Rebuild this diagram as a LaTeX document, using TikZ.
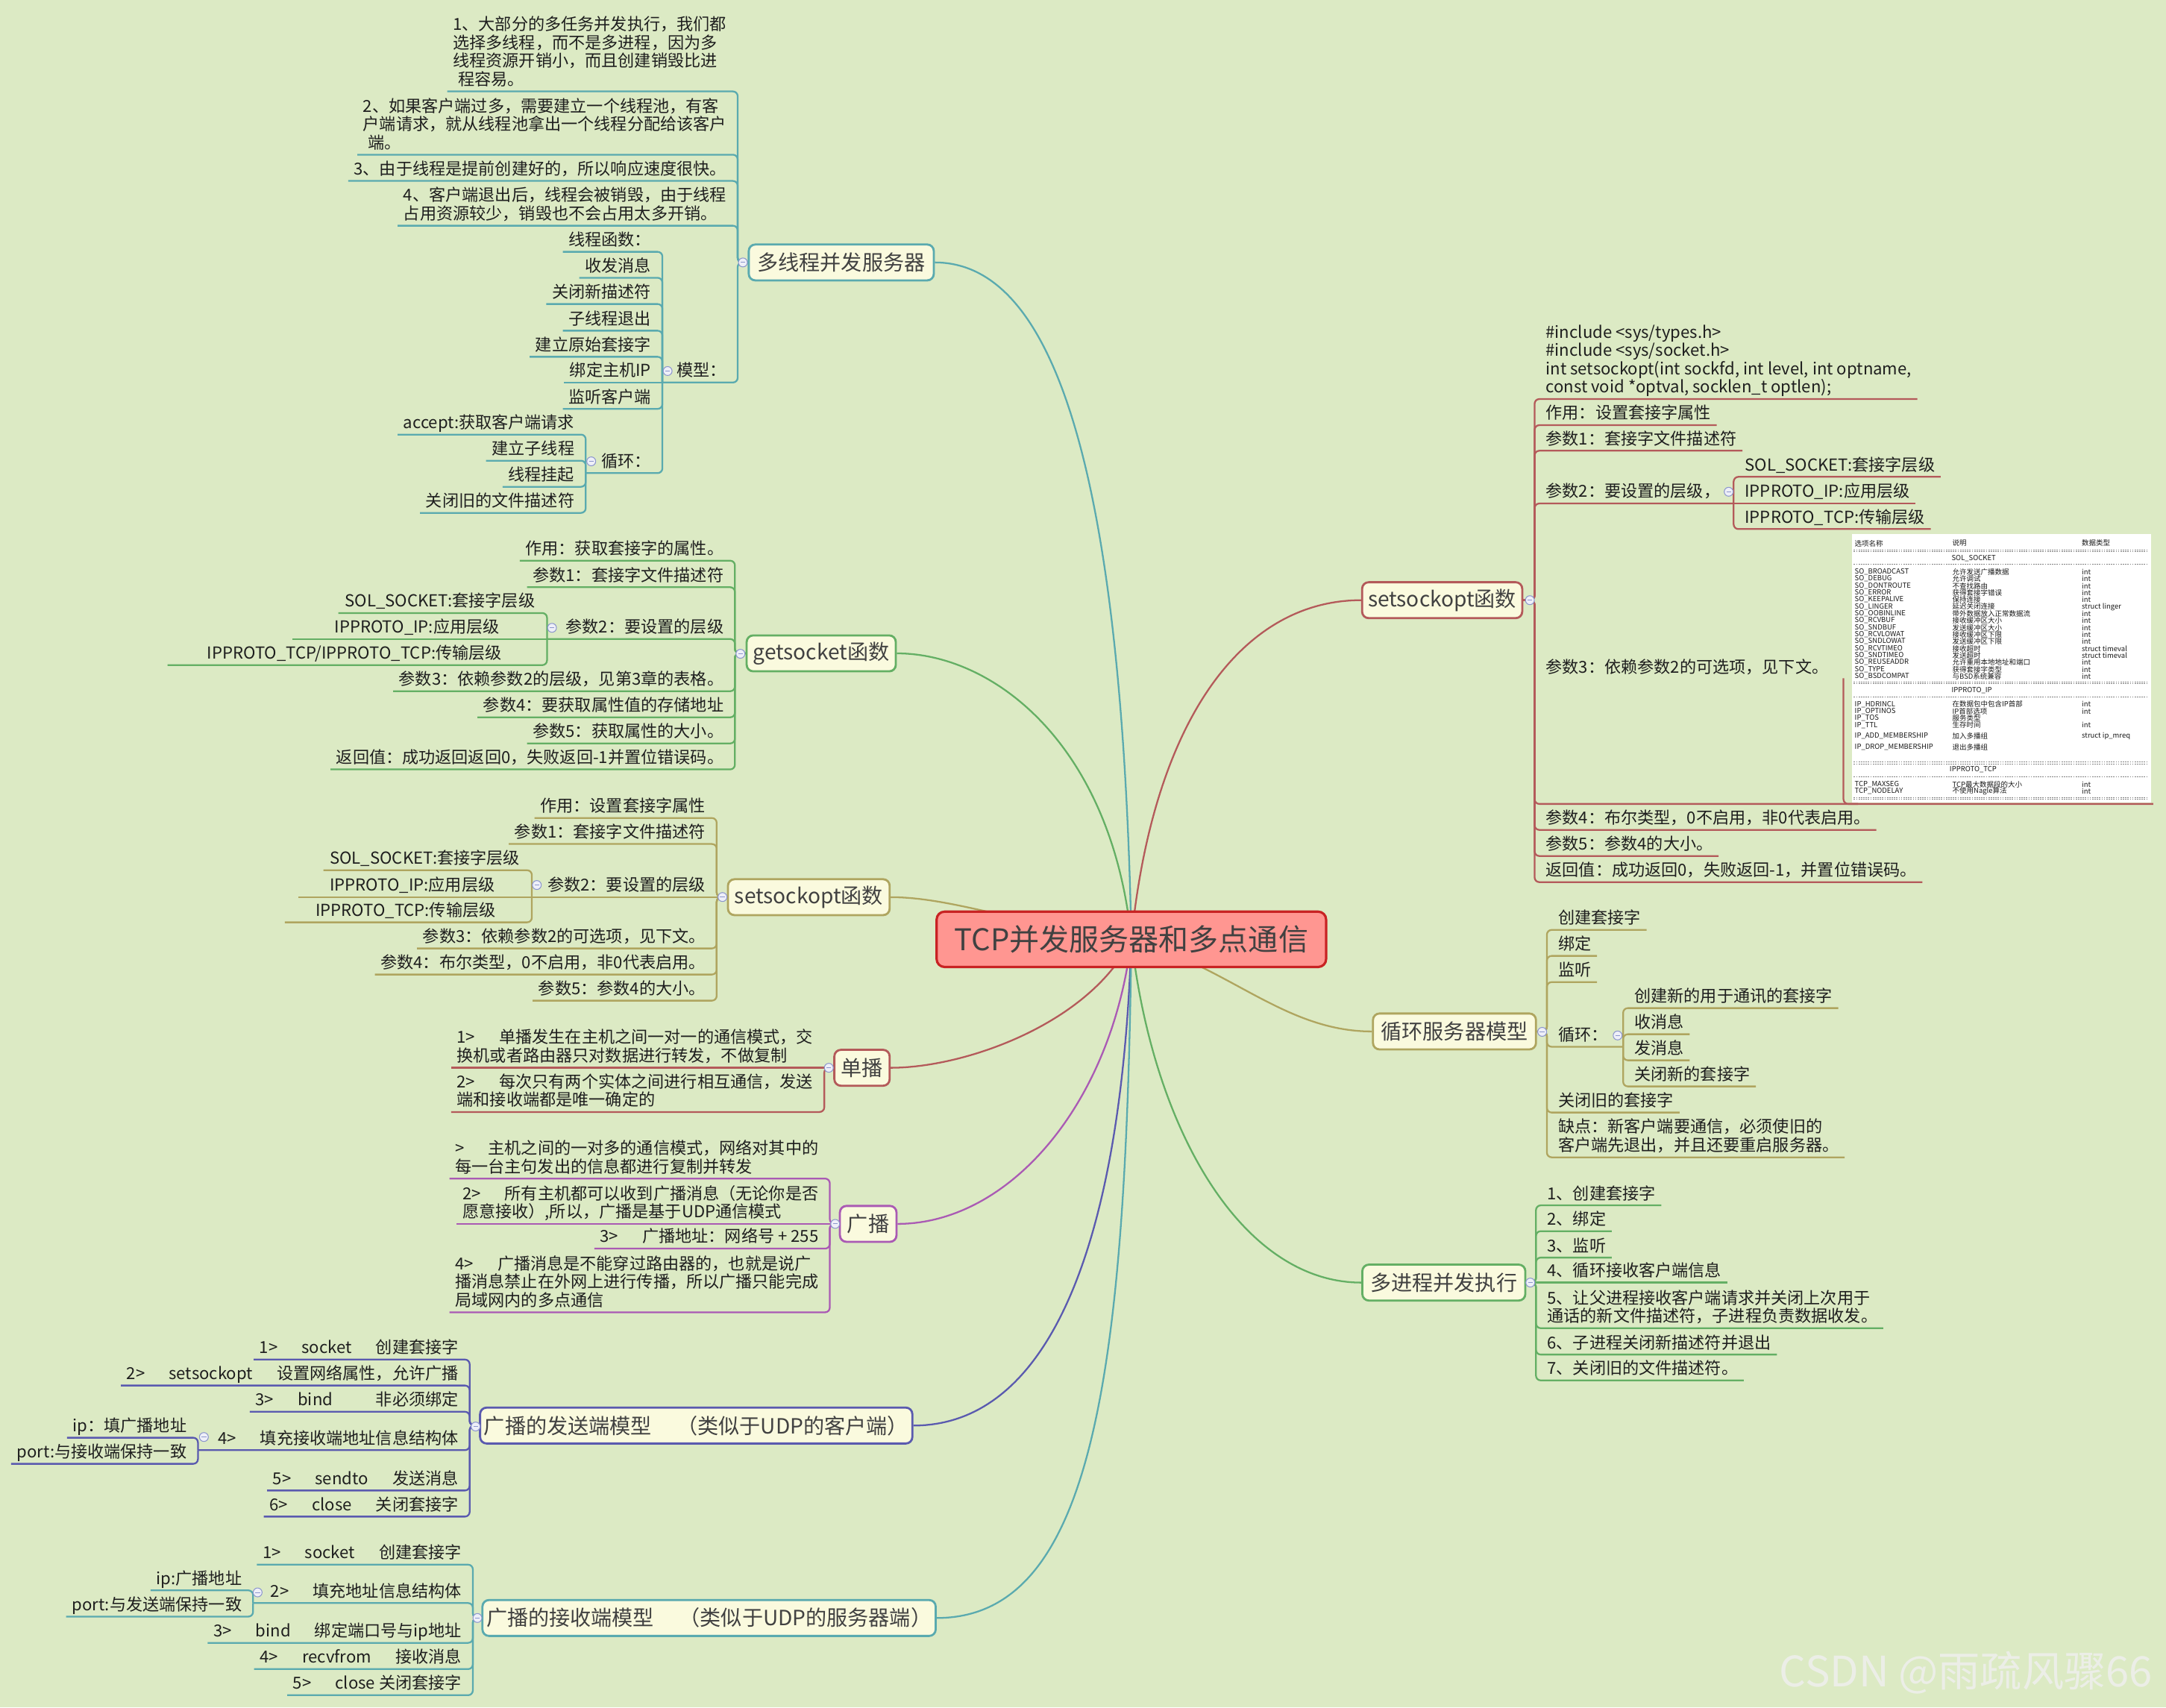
\documentclass[tikz,border=0pt]{standalone}
\usepackage{fontspec}
\setmainfont{Noto Sans CJK SC}
\usepackage{xcolor}
\usepackage{tikz}
\pgfdeclarelayer{background}
\pgfsetlayers{background,main}

\definecolor{mmbg}{RGB}{220,234,196}
\definecolor{mmcream}{RGB}{250,250,222}
\definecolor{mmteal}{RGB}{90,170,175}
\definecolor{mmgreen}{RGB}{100,175,100}
\definecolor{mmolive}{RGB}{175,165,95}
\definecolor{mmred}{RGB}{180,90,90}
\definecolor{mmpurple}{RGB}{170,90,180}
\definecolor{mmindigo}{RGB}{90,90,175}
\definecolor{mmcore}{RGB}{255,150,145}
\definecolor{mmcoreline}{RGB}{200,35,35}
\definecolor{mmfold}{RGB}{140,150,205}
\definecolor{mmtext}{RGB}{30,30,30}
\definecolor{mmtopic}{RGB}{65,65,65}

\newcommand{\leaffont}{\fontsize{6.3}{7}\selectfont}
\newcommand{\topicfont}{\fontsize{8}{9}\selectfont}
\newcommand{\cellfont}{\fontsize{2.7}{2.7}\selectfont}
\newcommand{\tabgap}{\hspace{1.45em}}

\tikzset{
  leafL/.style={anchor=south east, align=left, inner xsep=2pt, inner ysep=1.3pt,
                text depth=0.8pt, font=\leaffont, text=mmtext},
  leafR/.style={leafL, anchor=south west},
  topic/.style={draw=#1, fill=mmcream, line width=0.8pt, rounded corners=2.5pt,
                minimum height=13.7pt, inner xsep=1.5pt, inner ysep=0pt,
                font=\topicfont, text=mmtopic},
  core/.style={draw=mmcoreline, fill=mmcore, line width=0.9pt, rounded corners=3pt,
               minimum width=148.6pt, minimum height=21.1pt,
               font=\fontsize{11.4}{13}\selectfont, text=mmtopic},
  branch/.style={draw=#1, line width=0.65pt, rounded corners=1.8pt},
  mainlink/.style={draw=#1, line width=0.65pt},
  fold/.style={circle, draw=mmfold, fill=white!85!mmfold, line width=0.3pt,
               inner sep=0pt, minimum size=3.4pt,
               path picture={\draw[mmfold, line width=0.3pt]
                 ([xshift=-0.9pt]path picture bounding box.center) --
                 ([xshift=0.9pt]path picture bounding box.center);}},
  tabcell/.style={anchor=west, inner sep=0pt, font=\cellfont, text=black!90},
  tabrule/.style={black!50, line width=0.15pt, dash pattern=on 0.5pt off 0.4pt},
}

\begin{document}
\begin{tikzpicture}[x=0.01852cm, y=-0.01852cm]
\begin{pgfonlayer}{background}
\fill[mmbg] (0,0) rectangle (1568,1236);
\end{pgfonlayer}
\useasboundingbox (0,0) rectangle (1568,1236);

% ---- centre and main topics ----
\node[core] (tcp) at (819,680) {TCP并发服务器和多点通信};
\node[topic=mmteal, minimum width=70.6pt]    (mthr)  at (609,190)    {多线程并发服务器};
\node[topic=mmgreen, minimum width=56.9pt]   (gets)  at (594.5,473)  {getsocket函数};
\node[topic=mmolive, minimum width=61.7pt]   (setl)  at (585.5,649.5) {setsockopt函数};
\node[topic=mmred, minimum width=21.1pt]     (uni)   at (624,773)    {单播};
\node[topic=mmpurple, minimum width=21.6pt]  (bcast) at (628.5,886)  {广播};
\node[topic=mmindigo, minimum width=163.9pt] (send)  at (504,1032)   {广播的发送端模型\hspace{1.2em}（类似于UDP的客户端）};
\node[topic=mmteal, minimum width=171.3pt]   (recv)  at (513.3,1171.3) {广播的接收端模型\hspace{1.2em}（类似于UDP的服务器端）};
\node[topic=mmred, minimum width=61.1pt]     (setr)  at (1044,434.5) {setsockopt函数};
\node[topic=mmolive, minimum width=62.2pt]   (loop)  at (1052.9,746.7) {循环服务器模型};
\node[topic=mmgreen, minimum width=62.2pt]   (proc)  at (1045.2,928.5) {多进程并发执行};

\begin{pgfonlayer}{background}
\draw[mainlink=mmteal]   (tcp.center) .. controls (812,330) and (760,190) .. (mthr.east);
\draw[mainlink=mmgreen]  (tcp.center) .. controls (805,540) and (720,473) .. (gets.east);
\draw[mainlink=mmolive]  (tcp.center) .. controls (740,670) and (690,649.5) .. (setl.east);
\draw[mainlink=mmred]    (tcp.center) .. controls (790,740) and (700,773) .. (uni.east);
\draw[mainlink=mmpurple] (tcp.center) .. controls (805,800) and (730,886) .. (bcast.east);
\draw[mainlink=mmindigo] (tcp.center) .. controls (812,900) and (760,1032) .. (send.east);
\draw[mainlink=mmteal]   (tcp.center) .. controls (815,1000) and (790,1171.3) .. (recv.east);
\draw[mainlink=mmred]    (tcp.center) .. controls (835,520) and (900,434.5) .. (setr.west);
\draw[mainlink=mmolive]  (tcp.center) .. controls (890,700) and (930,746.7) .. (loop.west);
\draw[mainlink=mmgreen]  (tcp.center) .. controls (835,820) and (900,928.5) .. (proc.west);
\end{pgfonlayer}

% ---- 多线程并发服务器 ----
\coordinate (mthrS) at (534,0);
\coordinate (modS) at (479.5,0);
\coordinate (cycS) at (424,0);
\node[leafL] (mthr1) at (530,66.2) {1、大部分的多任务并发执行，我们都\\选择多线程，而不是多进程，因为多\\线程资源开销小，而且创建销毁比进\\\hspace*{2pt}程容易。};
\node[leafL] (mthr2) at (530,112) {2、如果客户端过多，需要建立一个线程池，有客\\户端请求，就从线程池拿出一个线程分配给该客户\\\hspace*{2pt}端。};
\node[leafL] (mthr3) at (530,131) {3、由于线程是提前创建好的，所以响应速度很快。};
\node[leafL] (mthr4) at (530,163.4) {4、客户端退出后，线程会被销毁，由于线程\\占用资源较少，销毁也不会占用太多开销。};
\node[leafL] (mod) at (530,276.9) {模型：};
\node[leafL] (mod1) at (475.5,182.3) {线程函数：};
\node[leafL] (mod2) at (475.5,201.1) {收发消息};
\node[leafL] (mod3) at (475.5,220.1) {关闭新描述符};
\node[leafL] (mod4) at (475.5,239.4) {子线程退出};
\node[leafL] (mod5) at (475.5,258.3) {建立原始套接字};
\node[leafL] (mod6) at (475.5,276.9) {绑定主机IP};
\node[leafL] (mod7) at (475.5,296) {监听客户端};
\node[leafL] (cyc) at (475.5,342.5) {循环：};
\node[leafL] (cyc1) at (420,314.6) {accept:获取客户端请求};
\node[leafL] (cyc2) at (420,333.5) {建立子线程};
\node[leafL] (cyc3) at (420,352.4) {线程挂起};
\node[leafL] (cyc4) at (420,371.3) {关闭旧的文件描述符};
\foreach \kid in {mthr1,mthr2,mthr3,mthr4}
  \draw[branch=mmteal] (mthr.west) -- (mthr.west -| mthrS) -- (mthrS |- \kid.south) -- (\kid.south west);
\draw[branch=mmteal] (mthr.west) -- (mthr.west -| mthrS) -- (mthrS |- mod.south) -- (modS |- mod.south);
\foreach \kid in {mod1,mod2,mod3,mod4,mod5,mod7}
  \draw[branch=mmteal] (modS |- mod.south) -- (modS |- \kid.south) -- (\kid.south west);
\draw[branch=mmteal] (modS |- mod.south) -- (mod6.south west);
\draw[branch=mmteal] (modS |- mod.south) -- (modS |- cyc.south) -- (cycS |- cyc.south);
\foreach \kid in {cyc1,cyc2,cyc3,cyc4}
  \draw[branch=mmteal] (cycS |- cyc.south) -- (cycS |- \kid.south) -- (\kid.south west);

% ---- getsocket函数 ----
\coordinate (getsS) at (532,0);
\coordinate (getsQ) at (396,0);
\node[leafL] (gets1) at (528,405.9) {作用：获取套接字的属性。};
\node[leafL] (gets2) at (528,425.1) {参数1：套接字文件描述符};
\node[leafL] (getsP) at (528,462.6) {参数2：要设置的层级};
\node[leafL, minimum width=77.1pt] (getsP1) at (392,443.8) {SOL\_SOCKET:套接字层级};
\node[leafL, minimum width=94.6pt] (getsP2) at (392,462.6) {IPPROTO\_IP:应用层级};
\node[leafL, minimum width=142.3pt] (getsP3) at (392,481.5) {IPPROTO\_TCP/IPPROTO\_TCP:传输层级};
\node[leafL] (gets3) at (528,500.4) {参数3：依赖参数2的层级，见第3章的表格。};
\node[leafL] (gets4) at (528,519.3) {参数4：要获取属性值的存储地址};
\node[leafL] (gets5) at (528,538.2) {参数5：获取属性的大小。};
\node[leafL] (gets6) at (528,557) {返回值：成功返回返回0，失败返回-1并置位错误码。};
\foreach \kid in {gets1,gets2,gets3,gets4,gets5,gets6}
  \draw[branch=mmgreen] (gets.west) -- (gets.west -| getsS) -- (getsS |- \kid.south) -- (\kid.south west);
\draw[branch=mmgreen] (gets.west) -- (gets.west -| getsS) -- (getsS |- getsP.south) -- (getsQ |- getsP.south);
\foreach \kid in {getsP1,getsP3}
  \draw[branch=mmgreen] (getsQ |- getsP.south) -- (getsQ |- \kid.south) -- (\kid.south west);
\draw[branch=mmgreen] (getsQ |- getsP.south) -- (getsP2.south west);

% ---- setsockopt函数 (left) ----
\coordinate (setlS) at (518.8,0);
\coordinate (setlQ) at (385,0);
\node[leafL] (setl1) at (514.8,592.2) {作用：设置套接字属性};
\node[leafL] (setl2) at (514.8,611) {参数1：套接字文件描述符};
\node[leafL] (setlP) at (514.8,649.5) {参数2：要设置的层级};
\node[leafL, minimum width=77pt] (setlP1) at (381,630) {SOL\_SOCKET:套接字层级};
\node[leafL, minimum width=86.6pt] (setlP2) at (381,649.5) {IPPROTO\_IP:应用层级};
\node[leafL, minimum width=91.7pt] (setlP3) at (381,667.7) {IPPROTO\_TCP:传输层级};
\node[leafL] (setl3) at (514.8,686.6) {参数3：依赖参数2的可选项，见下文。};
\node[leafL] (setl4) at (514.8,705.5) {参数4：布尔类型，0不启用，非0代表启用。};
\node[leafL] (setl5) at (514.8,724.4) {参数5：参数4的大小。};
\foreach \kid in {setl1,setl2,setl3,setl4,setl5}
  \draw[branch=mmolive] (setl.west) -- (setl.west -| setlS) -- (setlS |- \kid.south) -- (\kid.south west);
\draw[branch=mmolive] (setl.west) -- (setlQ |- setlP.south);
\foreach \kid in {setlP1,setlP3}
  \draw[branch=mmolive] (setlQ |- setlP.south) -- (setlQ |- \kid.south) -- (\kid.south west);
\draw[branch=mmolive] (setlQ |- setlP.south) -- (setlP2.south west);

% ---- 单播 ----
\coordinate (uniS) at (596.7,0);
\node[leafL] (uni1) at (592.7,773) {1>\tabgap 单播发生在主机之间一对一的通信模式，交\\换机或者路由器只对数据进行转发，不做复制};
\node[leafL] (uni2) at (592.7,805) {2>\tabgap 每次只有两个实体之间进行相互通信，发送\\端和接收端都是唯一确定的};
\draw[branch=mmred] (uni.west) -- (uni1.south west);
\draw[branch=mmred] (uni.west) -- (uni.west -| uniS) -- (uniS |- uni2.south) -- (uni2.south west);

% ---- 广播 ----
\coordinate (bcastS) at (600.7,0);
\node[leafL] (bcast1) at (596.7,853.2) {>\tabgap 主机之间的一对多的通信模式，网络对其中的\\每一台主句发出的信息都进行复制并转发};
\node[leafL] (bcast2) at (596.7,886) {2>\tabgap 所有主机都可以收到广播消息（无论你是否\\愿意接收）,所以，广播是基于UDP通信模式};
\node[leafL] (bcast3) at (596.7,903.9) {3>\tabgap 广播地址：网络号 + 255};
\node[leafL] (bcast4) at (596.7,950) {4>\tabgap 广播消息是不能穿过路由器的，也就是说广\\播消息禁止在外网上进行传播，所以广播只能完成\\局域网内的多点通信};
\foreach \kid in {bcast1,bcast3,bcast4}
  \draw[branch=mmpurple] (bcast.west) -- (bcast.west -| bcastS) -- (bcastS |- \kid.south) -- (\kid.south west);
\draw[branch=mmpurple] (bcast.west) -- (bcast2.south west);

% ---- 广播的发送端模型 ----
\coordinate (sendS) at (340,0);
\coordinate (sendQ) at (143.3,0);
\node[leafL] (send1) at (336,984.2) {1>\tabgap socket\tabgap 创建套接字};
\node[leafL] (send2) at (336,1003) {2>\tabgap setsockopt\tabgap 设置网络属性，允许广播};
\node[leafL] (send3) at (336,1022) {3>\tabgap bind\hspace{2.6em}非必须绑定};
\node[leafL] (sendP) at (336,1049.8) {4>\tabgap 填充接收端地址信息结构体};
\node[leafL] (sendP1) at (139.3,1040.8) {ip：填广播地址};
\node[leafL] (sendP2) at (139.3,1059.7) {port:与接收端保持一致};
\node[leafL] (send5) at (336,1079) {5>\tabgap sendto\tabgap 发送消息};
\node[leafL] (send6) at (336,1097.9) {6>\tabgap close\tabgap 关闭套接字};
\foreach \kid in {send1,send2,send3,send5,send6}
  \draw[branch=mmindigo] (send.west) -- (send.west -| sendS) -- (sendS |- \kid.south) -- (\kid.south west);
\draw[branch=mmindigo] (send.west) -- (send.west -| sendS) -- (sendS |- sendP.south) -- (sendQ |- sendP.south);
\foreach \kid in {sendP1,sendP2}
  \draw[branch=mmindigo] (sendQ |- sendP.south) -- (sendQ |- \kid.south) -- (\kid.south west);

% ---- 广播的接收端模型 ----
\coordinate (recvS) at (342.3,0);
\coordinate (recvQ) at (183.2,0);
\node[leafL] (recv1) at (338.3,1132.7) {1>\tabgap socket\tabgap 创建套接字};
\node[leafL] (recvP) at (338.3,1160.5) {2>\tabgap 填充地址信息结构体};
\node[leafL] (recvP1) at (179.2,1151.3) {ip:广播地址};
\node[leafL] (recvP2) at (179.2,1170.3) {port:与发送端保持一致};
\node[leafL] (recv3) at (338.3,1189.3) {3>\tabgap bind\tabgap 绑定端口号与ip地址};
\node[leafL] (recv4) at (338.3,1208.3) {4>\tabgap recvfrom\tabgap 接收消息};
\node[leafL] (recv5) at (338.3,1227.2) {5>\tabgap close 关闭套接字};
\foreach \kid in {recv1,recv3,recv4,recv5}
  \draw[branch=mmteal] (recv.west) -- (recv.west -| recvS) -- (recvS |- \kid.south) -- (\kid.south west);
\draw[branch=mmteal] (recv.west) -- (recv.west -| recvS) -- (recvS |- recvP.south) -- (recvQ |- recvP.south);
\foreach \kid in {recvP1,recvP2}
  \draw[branch=mmteal] (recvQ |- recvP.south) -- (recvQ |- \kid.south) -- (\kid.south west);

% ---- setsockopt函数 (right) ----
\coordinate (setrS) at (1110.9,0);
\coordinate (setrQ) at (1255,0);
\coordinate (setr3e) at (1558.7,582);
\node[leafR] (setr0) at (1114.9,288.9) {\#include <sys/types.h>\\\#include <sys/socket.h>\\int setsockopt(int sockfd, int level, int optname,\\const void *optval, socklen\_t optlen);};
\node[leafR] (setr1) at (1114.9,307.8) {作用：设置套接字属性};
\node[leafR] (setr2) at (1114.9,326.3) {参数1：套接字文件描述符};
\node[leafR] (setrP) at (1114.9,364.5) {参数2：要设置的层级，};
\node[leafR] (setrP1) at (1259,345.2) {SOL\_SOCKET:套接字层级};
\node[leafR] (setrP2) at (1259,364.5) {IPPROTO\_IP:应用层级};
\node[leafR] (setrP3) at (1259,383) {IPPROTO\_TCP:传输层级};
\node[leafR, anchor=west] (setr3) at (1114.9,483) {参数3：依赖参数2的可选项，见下文。};
\node[leafR] (setr4) at (1114.9,600.8) {参数4：布尔类型，0不启用，非0代表启用。};
\node[leafR] (setr5) at (1114.9,619.7) {参数5：参数4的大小。};
\node[leafR] (setr6) at (1114.9,638.6) {返回值：成功返回0，失败返回-1，并置位错误码。};
\foreach \kid in {setr0,setr1,setr2,setr4,setr5,setr6}
  \draw[branch=mmred] (setr.east) -- (setr.east -| setrS) -- (setrS |- \kid.south) -- (\kid.south east);
\draw[branch=mmred] (setr.east) -- (setr.east -| setrS) -- (setrS |- setrP.south) -- (setrQ |- setrP.south);
\foreach \kid in {setrP1,setrP3}
  \draw[branch=mmred] (setrQ |- setrP.south) -- (setrQ |- \kid.south) -- (\kid.south east);
\draw[branch=mmred] (setrQ |- setrP.south) -- (setrP2.south east);
\draw[branch=mmred] (setr.east) -- (setr.east -| setrS) -- (setrS |- setr3e) -- (setr3e);
\draw[branch=mmred] (1334.5,491) -- (1334.5,582) -- (1345,582);

% option table picture
\node[fill=white, inner sep=0pt, minimum width=114pt, minimum height=102.5pt, anchor=north west] (tbl) at (1340.5,386) {};
\node[tabcell] (th1) at (1342.3,393.3) {选项名称};
\node[tabcell] (th2) at (1413,393.3) {说明};
\node[tabcell] (th3) at (1506.7,393.3) {数据类型};
\foreach \y in {398.7,494.4,552.2,577.7}{
  \draw[tabrule] (1342,\y-0.6) -- (1555,\y-0.6);
  \draw[tabrule] (1342,\y+0.6) -- (1555,\y+0.6);
}
\foreach \y in {408.6,504.6,562.4}
  \draw[tabrule] (1342,\y) -- (1555,\y);
\node[tabcell] (tsol) at (1412.4,404) {SOL\_SOCKET};
\node[tabcell] (tip) at (1412.4,500) {IPPROTO\_IP};
\node[tabcell] (ttcp) at (1411,557.2) {IPPROTO\_TCP};
\foreach \nm/\ds/\ty [count=\i from 0] in {SO\_BROADCAST/允许发送广播数据/int,
    SO\_DEBUG/允许调试/int, SO\_DONTROUTE/不查找路由/int, SO\_ERROR/获得套接字错误/int,
    SO\_KEEPALIVE/保持连接/int, SO\_LINGER/延迟关闭连接/struct linger,
    SO\_OOBINLINE/带外数据放入正常数据流/int, SO\_RCVBUF/接收缓冲区大小/int,
    SO\_SNDBUF/发送缓冲区大小/int, SO\_RCVLOWAT/接收缓冲区下限/int,
    SO\_SNDLOWAT/发送缓冲区下限/int, SO\_RCVTIMEO/接收超时/struct timeval,
    SO\_SNDTIMEO/发送超时/struct timeval, SO\_REUSEADDR/允许重用本地地址和端口/int,
    SO\_TYPE/获得套接字类型/int, SO\_BSDCOMPAT/与BSD系统兼容/int}{
  \node[tabcell] (sn\i) at (1342.3,414+5.04*\i) {\nm};
  \node[tabcell] (sd\i) at (1413,414+5.04*\i) {\ds};
  \node[tabcell] (st\i) at (1506.7,414+5.04*\i) {\ty};
}
\foreach \nm/\ds/\ty [count=\i from 0] in {IP\_HDRINCL/在数据包中包含IP首部/int,
    IP\_OPTINOS/IP首部选项/int, IP\_TOS/服务类型/{}, IP\_TTL/生存时间/int}{
  \node[tabcell] (in\i) at (1342.3,509.9+5.04*\i) {\nm};
  \node[tabcell] (id\i) at (1413,509.9+5.04*\i) {\ds};
  \node[tabcell] (it\i) at (1506.7,509.9+5.04*\i) {\ty};
}
\node[tabcell] (iam) at (1342.3,532.7) {IP\_ADD\_MEMBERSHIP};
\node[tabcell] (iad) at (1413,532.7) {加入多播组};
\node[tabcell] (iat) at (1506.7,532.7) {struct ip\_mreq};
\node[tabcell] (idm) at (1342.3,540.9) {IP\_DROP\_MEMBERSHIP};
\node[tabcell] (idd) at (1413,540.9) {退出多播组};
\node[tabcell] (tm1) at (1342.3,567.8) {TCP\_MAXSEG};
\node[tabcell] (td1) at (1413,567.8) {TCP最大数据段的大小};
\node[tabcell] (tt1) at (1506.7,567.8) {int};
\node[tabcell] (tm2) at (1342.3,572.7) {TCP\_NODELAY};
\node[tabcell] (td2) at (1413,572.7) {不使用Nagle算法};
\node[tabcell] (tt2) at (1506.7,572.7) {int};

% ---- 循环服务器模型 ----
\coordinate (loopS) at (1119.8,0);
\coordinate (loopQ) at (1175,0);
\node[leafR] (loop1) at (1123.8,673.2) {创建套接字};
\node[leafR] (loop2) at (1123.8,692) {绑定};
\node[leafR] (loop3) at (1123.8,711) {监听};
\node[leafR] (loopP) at (1123.8,757.8) {循环：};
\node[leafR] (loopP1) at (1179,729.8) {创建新的用于通讯的套接字};
\node[leafR] (loopP2) at (1179,748.7) {收消息};
\node[leafR] (loopP3) at (1179,767.6) {发消息};
\node[leafR] (loopP4) at (1179,786.5) {关闭新的套接字};
\node[leafR] (loop5) at (1123.8,805.4) {关闭旧的套接字};
\node[leafR] (loop6) at (1123.8,837.8) {缺点：新客户端要通信，必须使旧的\\客户端先退出，并且还要重启服务器。};
\foreach \kid in {loop1,loop2,loop3,loop5,loop6}
  \draw[branch=mmolive] (loop.east) -- (loop.east -| loopS) -- (loopS |- \kid.south) -- (\kid.south east);
\draw[branch=mmolive] (loop.east) -- (loop.east -| loopS) -- (loopS |- loopP.south) -- (loopQ |- loopP.south);
\foreach \kid in {loopP1,loopP2,loopP3,loopP4}
  \draw[branch=mmolive] (loopQ |- loopP.south) -- (loopQ |- \kid.south) -- (\kid.south east);

% ---- 多进程并发执行 ----
\coordinate (procS) at (1111.9,0);
\node[leafR] (proc1) at (1115.9,872.6) {1、创建套接字};
\node[leafR] (proc2) at (1115.9,891.3) {2、绑定};
\node[leafR] (proc3) at (1115.9,910.4) {3、监听};
\node[leafR] (proc4) at (1115.9,928.5) {4、循环接收客户端信息};
\node[leafR] (proc5) at (1115.9,961.5) {5、让父进程接收客户端请求并关闭上次用于\\通话的新文件描述符，子进程负责数据收发。};
\node[leafR] (proc6) at (1115.9,980.6) {6、子进程关闭新描述符并退出};
\node[leafR] (proc7) at (1115.9,999.3) {7、关闭旧的文件描述符。};
\foreach \kid in {proc1,proc2,proc3,proc5,proc6,proc7}
  \draw[branch=mmgreen] (proc.east) -- (proc.east -| procS) -- (procS |- \kid.south) -- (\kid.south east);
\draw[branch=mmgreen] (proc.east) -- (proc4.south east);

% collapse markers
\foreach \x/\y [count=\k] in {537.8/190, 483.3/268.6, 428/334, 536/473.3, 399.6/454.5,
    523/649.4, 388.6/640.7, 600/773, 604.6/886, 344.3/1032.7, 147.6/1040.3,
    345.6/1171.3, 186.5/1152.8, 1107.5/434.5, 1251.4/356, 1116.4/747,
    1171/749.6, 1107.8/928.5}
  \node[fold] (fold\k) at (\x,\y) {};

\node[anchor=east, font=\fontsize{16}{16}\selectfont, text=white!88!gray, text opacity=0.8] (wm) at (1565,1211) {CSDN @雨疏风骤66};
\end{tikzpicture}
\end{document}
